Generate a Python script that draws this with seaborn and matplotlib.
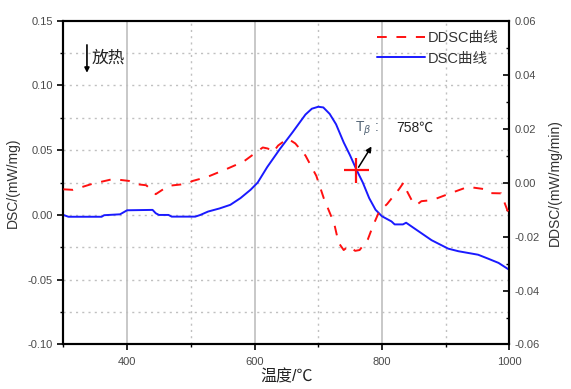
import matplotlib
matplotlib.use("Agg")
import matplotlib.pyplot as plt
import seaborn as sns
import pandas as pd
from matplotlib.ticker import MultipleLocator

# ---- data ----
dsc_temp = [300, 308, 360, 364, 389, 400, 440, 445, 450, 465, 470, 507, 515, 527,
            545, 562, 578, 594, 605, 620, 640, 660, 680, 690, 700, 708, 718, 728,
            740, 750, 760, 770, 780, 790, 800, 815, 820, 833, 838, 851, 878, 904,
            920, 951, 967, 983, 1000]
dsc_val = [0.0, -0.0014, -0.0014, -0.0002, 0.0005, 0.0036, 0.0039, 0.0013, 0.0, 0.0,
           -0.0013, -0.0013, 0.0, 0.0026, 0.005, 0.0078, 0.013, 0.0195, 0.025, 0.037,
           0.051, 0.064, 0.0775, 0.082, 0.0835, 0.083, 0.078, 0.07, 0.056, 0.046,
           0.035, 0.025, 0.013, 0.004, -0.001, -0.005, -0.0073, -0.0073, -0.006,
           -0.0104, -0.0195, -0.026, -0.028, -0.0307, -0.0338, -0.037, -0.0424]

ddsc_temp = [300, 315, 345, 378, 403, 411, 430, 445, 465, 493, 503, 526, 556, 583,
             613, 621, 629, 637, 652, 664, 680, 697, 709, 725, 732, 740, 748, 758,
             765, 778, 786, 796, 808, 827, 834, 840, 850, 856, 862, 879, 907, 935,
             960, 968, 987, 997, 1000]
ddsc_val = [-0.0025, -0.0027, -0.0005, 0.0013, 0.0006, -0.0005, -0.001, -0.0043,
            -0.0012, -0.0005, 0.0006, 0.0021, 0.005, 0.0078, 0.013, 0.0126, 0.0112,
            0.0137, 0.0163, 0.0145, 0.01, 0.0025, -0.006, -0.0151, -0.0223, -0.025,
            -0.0235, -0.0253, -0.025, -0.021, -0.016, -0.0106, -0.008, -0.0024, 0.0,
            -0.0035, -0.008, -0.008, -0.0069, -0.0065, -0.004, -0.0016, -0.0024,
            -0.0039, -0.004, -0.0103, -0.011]

x_ticks = [400, 600, 800, 1000]
left_ticks = [-0.10, -0.05, 0.00, 0.05, 0.10, 0.15]
right_ticks = [-0.06, -0.04, -0.02, 0.00, 0.02, 0.04, 0.06]

peak_temp = 760
peak_val = 0.035
peak_label = "758℃"

# ---- style ----
sns.set_theme(style="ticks")
plt.rcParams['font.family'] = ['Liberation Sans', 'Noto Sans CJK SC', 'DejaVu Sans']
plt.rcParams['axes.unicode_minus'] = False

fig = plt.figure(figsize=(5.71, 3.89), dpi=100)
ax = fig.add_axes([0.111, 0.1144, 0.781, 0.8326])
ax2 = ax.twinx()

dsc_df = pd.DataFrame({"T": dsc_temp, "DSC": dsc_val})
ddsc_df = pd.DataFrame({"T": ddsc_temp, "DDSC": ddsc_val})

sns.lineplot(data=dsc_df, x="T", y="DSC", ax=ax, color="#1a1aff", lw=1.4,
             label="DSC曲线", legend=False, zorder=3)
sns.lineplot(data=ddsc_df, x="T", y="DDSC", ax=ax2, color="#ff1010", lw=1.4,
             label="DDSC曲线", legend=False, zorder=3)
ax2.lines[0].set_dashes((5, 5))

ax.set_xlim(300, 1000)
ax.set_ylim(-0.10, 0.15)
ax2.set_ylim(-0.06, 0.06)

ax.set_xticks(x_ticks)
ax.set_xticklabels([str(t) for t in x_ticks])
ax.xaxis.set_minor_locator(MultipleLocator(100))
ax.set_yticks(left_ticks)
ax.set_yticklabels([f"{t:.2f}" for t in left_ticks])
ax.yaxis.set_minor_locator(MultipleLocator(0.025))
ax2.set_yticks(right_ticks)
ax2.set_yticklabels([f"{t:.2f}" for t in right_ticks])
ax2.yaxis.set_minor_locator(MultipleLocator(0.01))

# grid
ax.grid(False)
for xv in [400, 600, 800]:
    ax.axvline(xv, color="#c8c8c8", lw=1.4, zorder=0)
for xv in [500, 700, 900]:
    ax.axvline(xv, color="#c0c0c0", lw=1.0, ls=(0, (1.5, 3)), zorder=0)
for yv in [-0.075, -0.05, -0.025, 0.0, 0.025, 0.05, 0.075, 0.10, 0.125]:
    ax.axhline(yv, color="#c0c0c0", lw=1.0, ls=(0, (1.5, 3)), zorder=0)

tick_col = "#4a4a4a"
ax.tick_params(axis="both", which="major", direction="out", length=4, width=1.2,
               labelsize=8, labelcolor=tick_col, color="black")
ax.tick_params(axis="both", which="minor", direction="out", length=2.5, width=1.0,
               color="black")
ax2.tick_params(axis="y", which="major", direction="in", length=4, width=1.2,
                labelsize=8, labelcolor=tick_col, color="black")
ax2.tick_params(axis="y", which="minor", direction="in", length=2.5, width=1.0,
                color="black")
ax.tick_params(axis="x", pad=5)

for a in (ax, ax2):
    for s in a.spines.values():
        s.set_color("black")
        s.set_linewidth(1.5)
        s.set_visible(True)

ax.set_xlabel("温度/℃", fontsize=11.5, color="#222222", labelpad=2)
ax.set_ylabel("DSC/(mW/mg)", fontsize=10, color="#333333", labelpad=6)
ax2.set_ylabel("DDSC/(mW/mg/min)", fontsize=10, color="#333333", labelpad=6,
               rotation=90)

# exotherm arrow
ax.annotate("", xy=(337, 0.1076), xytext=(337, 0.1334),
            arrowprops=dict(arrowstyle="-|>", color="black", lw=1.2,
                            mutation_scale=7))
ax.text(344, 0.1215, "放热", fontsize=12, color="#222222", va="center", ha="left")

# peak marker & annotation
ax.plot([peak_temp], [peak_val], marker="+", color="#ff1010", markersize=18,
        mew=1.6, zorder=5)
ax.annotate("", xy=(786, 0.0547), xytext=(peak_temp + 1, peak_val),
            arrowprops=dict(arrowstyle="-|>", color="black", lw=1.1,
                            mutation_scale=8), zorder=6)
ax.text(757, 0.0665, r"T$_{\beta}$ :", fontsize=10, color="#556677",
        va="center", ha="left")
ax.text(822, 0.0675, peak_label, fontsize=10, color="#222222",
        va="center", ha="left")

# legend
h1, l1 = ax2.get_legend_handles_labels()
h2, l2 = ax.get_legend_handles_labels()
leg = ax2.legend(h1 + h2, l1 + l2, loc="upper right", bbox_to_anchor=(0.995, 0.995),
                 frameon=False, fontsize=10.5, handlelength=3.3, handletextpad=0.15,
                 labelspacing=0.45, borderaxespad=0.2)
for t in leg.get_texts():
    t.set_color("#333333")

fig.savefig("out.png", dpi=100)
